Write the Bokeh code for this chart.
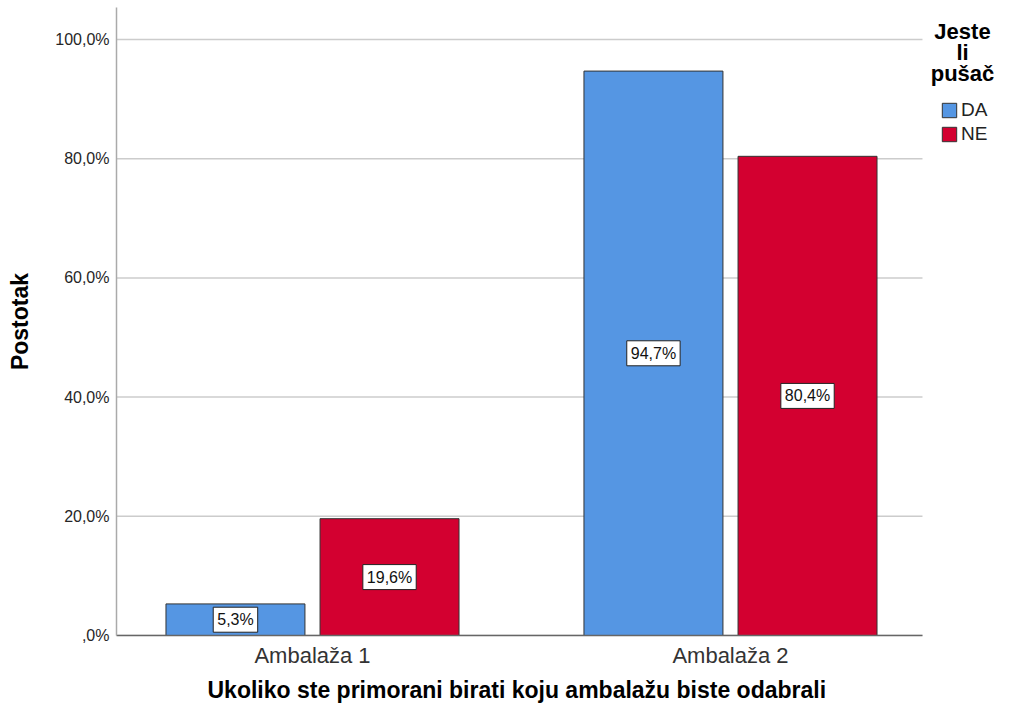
from bokeh.plotting import figure
from bokeh.models import (Range1d, FixedTicker, ColumnDataSource, Legend,
                          LegendItem, Label, Title)
from bokeh.transform import dodge
from bokeh.embed import file_html
from bokeh.resources import INLINE

categories = ["Ambalaža 1", "Ambalaža 2"]
series = ["DA", "NE"]
da_values = [5.3, 94.7]
ne_values = [19.6, 80.4]
da_labels = ["5,3%", "94,7%"]
ne_labels = ["19,6%", "80,4%"]
y_ticks = [0, 20, 40, 60, 80, 100]
y_tick_labels = [",0%", "20,0%", "40,0%", "60,0%", "80,0%", "100,0%"]
legend_title = ["Jeste", "li", "pušač"]
x_title = "Ukoliko ste primorani birati koju ambalažu biste odabrali"
y_title = "Postotak"
colors = ["#5596E3", "#D30030"]

FONT = "Liberation Sans"

idx = list(range(len(categories)))
src_da = ColumnDataSource(dict(x=idx, y=da_values))
src_ne = ColumnDataSource(dict(x=idx, y=ne_values))

X0, X1, XB = -0.4689, 1.634, 1.4593
p = figure(width=995, height=706, output_backend="svg", toolbar_location=None,
           x_range=Range1d(X0, X1), y_range=Range1d(0, 105.37),
           min_border_left=116, min_border_right=0, min_border_top=7, min_border_bottom=71)
p.outline_line_color = None
p.background_fill_color = "white"
p.border_fill_color = "white"

# horizontal grid lines limited to the chart area (not under the legend)
p.segment(x0=[X0] * len(y_ticks), x1=[XB] * len(y_ticks), y0=y_ticks, y1=y_ticks,
          line_color="#cccccc", line_width=1.5, level="underlay")

off = 0.1843
bw = 0.3325
r_da = p.vbar(x=dodge("x", -off), top="y", width=bw, source=src_da,
              fill_color=colors[0], line_color="#333333", line_width=1)
r_ne = p.vbar(x=dodge("x", off), top="y", width=bw, source=src_ne,
              fill_color=colors[1], line_color="#333333", line_width=1)

for vals, labs, o in ((da_values, da_labels, -off), (ne_values, ne_labels, off)):
    for i, v, t in zip(idx, vals, labs):
        p.add_layout(Label(x=i + o, y=v / 2, text=t,
                           text_align="center", text_baseline="middle",
                           text_font=FONT, text_font_size="16px", text_color="#111111",
                           background_fill_color="white", border_line_color="#222222",
                           border_line_width=1, padding=4))

# axes
p.xaxis.ticker = FixedTicker(ticks=idx)
p.xaxis.major_label_overrides = {i: c for i, c in zip(idx, categories)}
p.xaxis.bounds = (X0, XB)
p.yaxis.ticker = FixedTicker(ticks=y_ticks)
p.yaxis.major_label_overrides = {t: l for t, l in zip(y_ticks, y_tick_labels)}
for ax in (p.xaxis[0], p.yaxis[0]):
    ax.major_tick_line_color = None
    ax.minor_tick_line_color = None
    ax.major_tick_out = 0
    ax.major_tick_in = 0
    ax.major_label_text_font = FONT
    ax.axis_label_text_font = FONT
    ax.axis_label_text_font_style = "bold"
    ax.axis_label_text_color = "#000000"

p.xaxis.axis_line_color = "#666666"
p.xaxis.axis_line_width = 1.5
p.xaxis.major_label_text_font_size = "22px"
p.xaxis.major_label_text_color = "#333333"
p.xaxis.major_label_standoff = 7

p.yaxis.axis_line_color = "#aaaaaa"
p.yaxis.axis_line_width = 1.5
p.yaxis.major_label_text_font_size = "16px"
p.yaxis.major_label_text_color = "#262626"
p.yaxis.major_label_standoff = 7
p.yaxis.axis_label = y_title
p.yaxis.axis_label_text_font_size = "23px"
p.yaxis.axis_label_standoff = 19

p.xgrid.grid_line_color = None
p.ygrid.grid_line_color = None

# x-axis title, aligned to the bar area (not the legend area)
p.add_layout(Title(text=x_title, align="left", offset=91, standoff=8,
                   text_font=FONT, text_font_size="23px", text_font_style="bold",
                   text_color="#000000"), "below")

# legend
legend = Legend(items=[LegendItem(label=series[0], renderers=[r_da]),
                       LegendItem(label=series[1], renderers=[r_ne])],
                location=(824, 490), orientation="vertical",
                padding=0, margin=0, spacing=2, label_standoff=3,
                glyph_width=18, glyph_height=18, label_height=18,
                label_text_font=FONT, label_text_font_size="19px",
                label_text_color="#222222",
                background_fill_alpha=0, border_line_color=None)
p.add_layout(legend, "center")

for i, t in enumerate(legend_title):
    p.add_layout(Label(x=846, y=604 - 21 * i, x_units="screen", y_units="screen",
                       text=t, text_align="center", text_baseline="middle",
                       text_font=FONT, text_font_size="22px",
                       text_font_style="bold", text_color="#000000"))

open("out.html", "w").write(file_html(p, INLINE))
